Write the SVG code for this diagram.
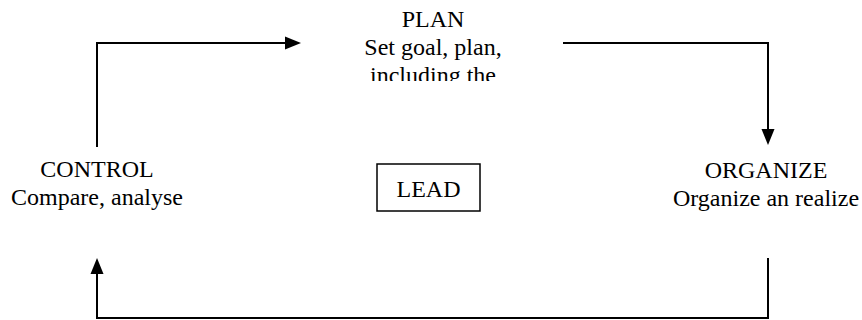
<svg xmlns="http://www.w3.org/2000/svg" width="862" height="320" viewBox="0 0 862 320">
  <style>
    .lbl { font-family: "Liberation Serif", "Times New Roman", serif; font-size: 24px; fill: #000; text-anchor: middle; }
    .conn { fill: none; stroke: #000; stroke-width: 2; }
    .box { fill: #fff; stroke: #000; stroke-width: 1.5; }
  </style>
  <defs>
    <marker id="head" markerUnits="userSpaceOnUse" markerWidth="16" markerHeight="14" refX="2" refY="7" orient="auto">
      <path d="M0,0.5 L16,7 L0,13.5 z" fill="#000"/>
    </marker>
    <clipPath id="planClip">
      <rect x="300" y="0" width="260" height="81"/>
    </clipPath>
  </defs>

  <!-- cycle connectors -->
  <g id="connectors">
    <path class="conn" d="M97,147 V43 H287" marker-end="url(#head)"/>
    <path class="conn" d="M563,43 H768 V131" marker-end="url(#head)"/>
    <path class="conn" d="M768,258 V318 H97 V272" marker-end="url(#head)"/>
  </g>

  <g id="plan" clip-path="url(#planClip)">
    <text class="lbl" x="433" y="27">PLAN</text>
    <text class="lbl" x="433" y="55">Set goal, plan,</text>
    <text class="lbl" x="433" y="83">including the</text>
  </g>

  <g id="organize">
    <text class="lbl" x="766" y="178">ORGANIZE</text>
    <text class="lbl" x="766" y="206">Organize an realize</text>
  </g>

  <g id="control">
    <text class="lbl" x="97" y="177">CONTROL</text>
    <text class="lbl" x="97" y="205">Compare, analyse</text>
  </g>

  <g id="lead">
    <rect class="box" x="377" y="164" width="103" height="47"/>
    <text class="lbl" x="428.5" y="197">LEAD</text>
  </g>
</svg>
